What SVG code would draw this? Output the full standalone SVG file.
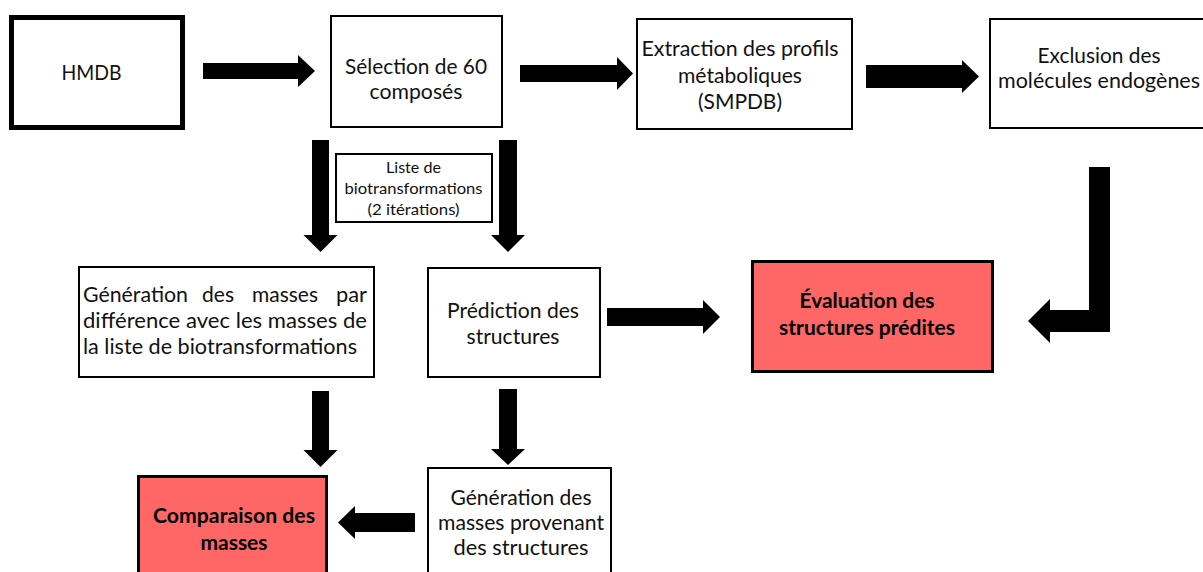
<svg xmlns="http://www.w3.org/2000/svg" width="1203" height="572" viewBox="0 0 1203 572">
  <style>
    .box { fill: #ffffff; stroke: #000000; stroke-width: 2; }
    .box-thick { fill: #ffffff; stroke: #000000; stroke-width: 5; }
    .box-red { fill: #ff6666; stroke: #000000; stroke-width: 3; }
    .lbl { font-family: "Lato", "Liberation Sans", sans-serif; font-size: 21px; fill: #111111; text-anchor: middle; }
    .lbl-b { font-family: "Lato", "Liberation Sans", sans-serif; font-size: 21px; font-weight: bold; fill: #000000; text-anchor: middle; }
    .lbl-s { font-family: "Lato", "Liberation Sans", sans-serif; font-size: 16px; fill: #111111; text-anchor: middle; }
    .arrow { fill: #000000; }
  </style>

  <!-- block arrows -->
  <g id="connectors">
    <polygon class="arrow" points="203,63 298,63 298,55 315,71 298,87 298,79 203,79"/>
    <polygon class="arrow" points="520,65 617,65 617,57 633,73.5 617,90 617,82 520,82"/>
    <polygon class="arrow" points="866,65 962,65 962,60 979,76.5 962,93 962,88 866,88"/>
    <polygon class="arrow" points="312,140 329,140 329,235 337.5,235 320.5,252 303.5,235 312,235"/>
    <polygon class="arrow" points="499,140 517,140 517,235 525,235 508,252 491,235 499,235"/>
    <polygon class="arrow" points="312,391 329,391 329,450 337.5,450 320.5,467 303.5,450 312,450"/>
    <polygon class="arrow" points="499,389 517,389 517,449 525,449 508,465 491,449 499,449"/>
    <polygon class="arrow" points="607,308 703,308 703,300 720,317 703,334 703,326 607,326"/>
    <polygon class="arrow" points="1089,167 1110,167 1110,332 1050,332 1050,343 1028,321 1050,299 1050,310 1089,310"/>
    <polygon class="arrow" points="415,513 415,532 355,532 355,539 338,522.5 355,506 355,513"/>
  </g>

  <g id="hmdb">
    <rect class="box-thick" x="11.5" y="17.5" width="171" height="110"/>
    <text class="lbl" x="91.5" y="79.5" textLength="60" lengthAdjust="spacingAndGlyphs">HMDB</text>
  </g>

  <g id="selection">
    <rect class="box" x="331" y="16" width="171" height="111"/>
    <text class="lbl" x="416" y="74" textLength="142" lengthAdjust="spacingAndGlyphs">Sélection de 60</text>
    <text class="lbl" x="416" y="99" textLength="93" lengthAdjust="spacingAndGlyphs">composés</text>
  </g>

  <g id="extraction">
    <rect class="box" x="637" y="19" width="215" height="110"/>
    <text class="lbl" x="740" y="56" textLength="197" lengthAdjust="spacingAndGlyphs">Extraction des profils</text>
    <text class="lbl" x="740" y="82.5" textLength="124" lengthAdjust="spacingAndGlyphs">métaboliques</text>
    <text class="lbl" x="740" y="109" textLength="84" lengthAdjust="spacingAndGlyphs">(SMPDB)</text>
  </g>

  <g id="exclusion">
    <rect class="box" x="990" y="19" width="230" height="109"/>
    <text class="lbl" x="1099" y="63" textLength="123" lengthAdjust="spacingAndGlyphs">Exclusion des</text>
    <text class="lbl" x="1099" y="88" textLength="202" lengthAdjust="spacingAndGlyphs">molécules endogènes</text>
  </g>

  <g id="liste-biotransformations">
    <rect class="box" x="336" y="154" width="156" height="68"/>
    <text class="lbl-s" x="413.5" y="173" textLength="55" lengthAdjust="spacingAndGlyphs">Liste de</text>
    <text class="lbl-s" x="413.5" y="194" textLength="138" lengthAdjust="spacingAndGlyphs">biotransformations</text>
    <text class="lbl-s" x="413.5" y="215" textLength="92" lengthAdjust="spacingAndGlyphs">(2 itérations)</text>
  </g>

  <g id="generation-masses-difference">
    <rect class="box" x="79" y="267" width="295" height="110"/>
    <text class="lbl" style="text-anchor:start" y="302"><tspan x="83" textLength="105" lengthAdjust="spacingAndGlyphs">Génération</tspan><tspan x="202" textLength="32" lengthAdjust="spacingAndGlyphs">des</tspan><tspan x="252" textLength="66" lengthAdjust="spacingAndGlyphs">masses</tspan><tspan x="336" textLength="31" lengthAdjust="spacingAndGlyphs">par</tspan></text>
    <text class="lbl" style="text-anchor:start" x="83" y="328" textLength="284" lengthAdjust="spacingAndGlyphs">différence avec les masses de</text>
    <text class="lbl" style="text-anchor:start" x="83" y="354" textLength="274" lengthAdjust="spacingAndGlyphs">la liste de biotransformations</text>
  </g>

  <g id="prediction-structures">
    <rect class="box" x="428" y="268" width="172" height="109"/>
    <text class="lbl" x="513" y="318" textLength="132" lengthAdjust="spacingAndGlyphs">Prédiction des</text>
    <text class="lbl" x="513" y="344" textLength="93" lengthAdjust="spacingAndGlyphs">structures</text>
  </g>

  <g id="evaluation">
    <rect class="box-red" x="752.5" y="261.5" width="240" height="110"/>
    <text class="lbl-b" x="867" y="308" textLength="135" lengthAdjust="spacingAndGlyphs">Évaluation des</text>
    <text class="lbl-b" x="867" y="335" textLength="176" lengthAdjust="spacingAndGlyphs">structures prédites</text>
  </g>

  <g id="comparaison-masses">
    <rect class="box-red" x="138.5" y="476.5" width="188" height="110"/>
    <text class="lbl-b" x="234" y="523" textLength="162" lengthAdjust="spacingAndGlyphs">Comparaison des</text>
    <text class="lbl-b" x="234" y="550" textLength="67" lengthAdjust="spacingAndGlyphs">masses</text>
  </g>

  <g id="generation-masses-structures">
    <rect class="box" x="428" y="468" width="183" height="120"/>
    <text class="lbl" x="521" y="505" textLength="141" lengthAdjust="spacingAndGlyphs">Génération des</text>
    <text class="lbl" x="521" y="530" textLength="166" lengthAdjust="spacingAndGlyphs">masses provenant</text>
    <text class="lbl" x="521" y="555" textLength="135" lengthAdjust="spacingAndGlyphs">des structures</text>
  </g>
</svg>
